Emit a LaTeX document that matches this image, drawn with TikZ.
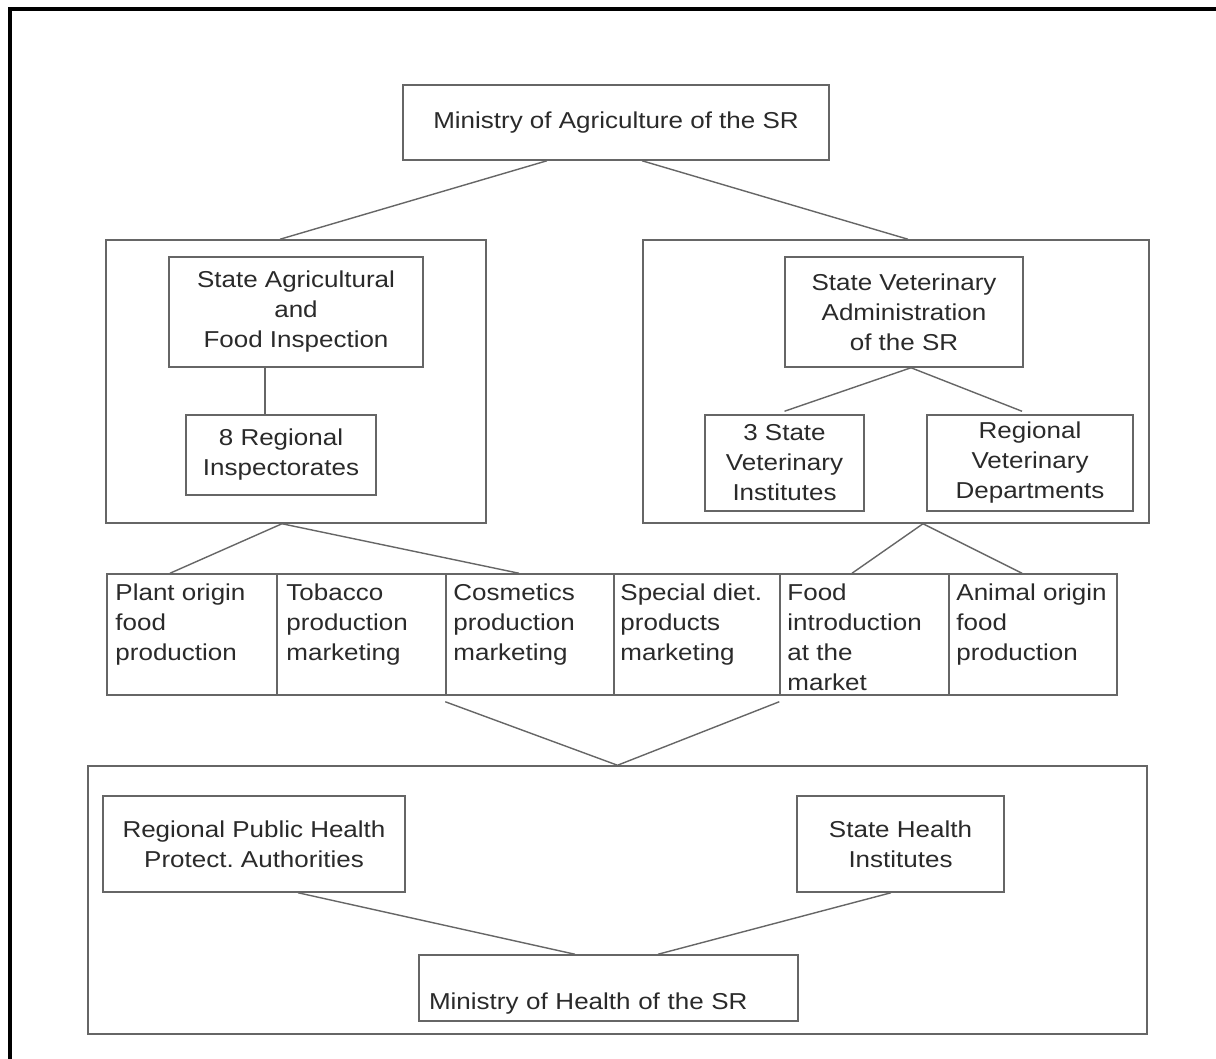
\documentclass[tikz,border=0pt]{standalone}
\usepackage{fontspec}
\setmainfont{Liberation Sans}[FakeStretch=1.13]
\definecolor{ink}{HTML}{2A2A2A}
\definecolor{linec}{HTML}{666666}
\frenchspacing
\begin{document}
\begin{tikzpicture}[x=1pt,y=-1pt,
  box/.style={draw=linec, line width=1.5pt, inner sep=0pt, align=center, text=ink, font=\fontsize{23}{30}\selectfont},
  frame/.style={draw=linec, line width=1.5pt, inner sep=0pt},
  celltext/.style={inner sep=0pt, align=left, text=ink, font=\fontsize{23}{30}\selectfont, anchor=north west},
  conn/.style={draw=linec, line width=1.4pt}]
\useasboundingbox (0,0) rectangle (1216,1059);
\fill[white] (0,0) rectangle (1216,1059);
% page frame
\draw[line width=4pt, black] (9.5,1059) -- (9.5,9.5) -- (1216,9.5);

% top
\node[box, minimum width=426pt, minimum height=75pt] (mag) at (616,122.5) {Ministry of Agriculture of the SR};

% left group
\node[frame, minimum width=380pt, minimum height=283pt] (lbig) at (296,381.5) {};
\node[box, minimum width=254pt, minimum height=110pt] (safi) at (296,312) {State Agricultural\\and\\Food Inspection};
\node[box, minimum width=190pt, minimum height=80pt] (reg8) at (281,455) {8 Regional\\Inspectorates};

% right group
\node[frame, minimum width=506pt, minimum height=283pt] (rbig) at (896,381.5) {};
\node[box, minimum width=238pt, minimum height=110pt] (sva) at (904,312) {State Veterinary\\Administration\\of the SR};
\node[box, minimum width=159pt, minimum height=96pt] (svi) at (784.5,463) {3 State\\Veterinary\\Institutes};
\node[box, minimum width=206pt, minimum height=96pt] (rvd) at (1030,463) {Regional\\Veterinary\\Departments};

% row of activities
\node[frame, minimum width=170pt, minimum height=121pt] (c1) at (192,634.5) {};
\node[frame, minimum width=169pt, minimum height=121pt] (c2) at (361.5,634.5) {};
\node[frame, minimum width=168pt, minimum height=121pt] (c3) at (530,634.5) {};
\node[frame, minimum width=166pt, minimum height=121pt] (c4) at (697,634.5) {};
\node[frame, minimum width=169pt, minimum height=121pt] (c5) at (864.5,634.5) {};
\node[frame, minimum width=168pt, minimum height=121pt] (c6) at (1033,634.5) {};
\node[celltext] (t1) at ([xshift=9pt,yshift=-10pt]c1.north west) {Plant origin\\food\\production};
\node[celltext] (t2) at ([xshift=10pt,yshift=-10pt]c2.north west) {Tobacco\\production\\marketing};
\node[celltext] (t3) at ([xshift=8pt,yshift=-10pt]c3.north west) {Cosmetics\\production\\marketing};
\node[celltext] (t4) at ([xshift=7pt,yshift=-10pt]c4.north west) {Special diet.\\products\\marketing};
\node[celltext] (t5) at ([xshift=8pt,yshift=-10pt]c5.north west) {Food\\introduction\\at the\\market};
\node[celltext] (t6) at ([xshift=8pt,yshift=-10pt]c6.north west) {Animal origin\\food\\production};

% bottom group
\node[frame, minimum width=1059pt, minimum height=268pt] (bbig) at (617.5,900) {};
\node[box, minimum width=302pt, minimum height=96pt] (rph) at (254,844) {Regional Public Health\\Protect. Authorities};
\node[box, minimum width=207pt, minimum height=96pt] (shi) at (900.5,844) {State Health\\Institutes};
\node[box, minimum width=379pt, minimum height=66pt, text width=359pt, inner xsep=10pt, align=left,
      text height=44pt, text depth=2pt] (moh) at (608.5,988) {Ministry of Health of the SR};

% connectors
\draw[conn] ([xshift=-69pt]mag.south) -- ([xshift=-16pt]lbig.north);
\draw[conn] ([xshift=26pt]mag.south) -- ([xshift=12pt]rbig.north);
\draw[conn] ([xshift=-31pt]safi.south) -- ([xshift=-31pt]safi.south |- reg8.north);
\draw[conn] ([xshift=7pt]sva.south) -- ([yshift=3pt]svi.north);
\draw[conn] ([xshift=7pt]sva.south) -- ([xshift=-8pt,yshift=3pt]rvd.north);
\draw[conn] ([xshift=-14pt]lbig.south) -- ([xshift=-22pt]c1.north);
\draw[conn] ([xshift=-14pt]lbig.south) -- ([xshift=-11pt]c3.north);
\draw[conn] ([xshift=27pt]rbig.south) -- ([xshift=-12.5pt]c5.north);
\draw[conn] ([xshift=27pt]rbig.south) -- ([xshift=-11pt]c6.north);
\draw[conn] ([yshift=-6pt]c3.south west) -- (bbig.north);
\draw[conn] ([yshift=-6pt]c5.south west) -- (bbig.north);
\draw[conn] ([xshift=44pt]rph.south) -- ([xshift=-33.5pt]moh.north);
\draw[conn] ([xshift=-9.5pt]shi.south) -- ([xshift=49.5pt]moh.north);
\end{tikzpicture}
\end{document}
